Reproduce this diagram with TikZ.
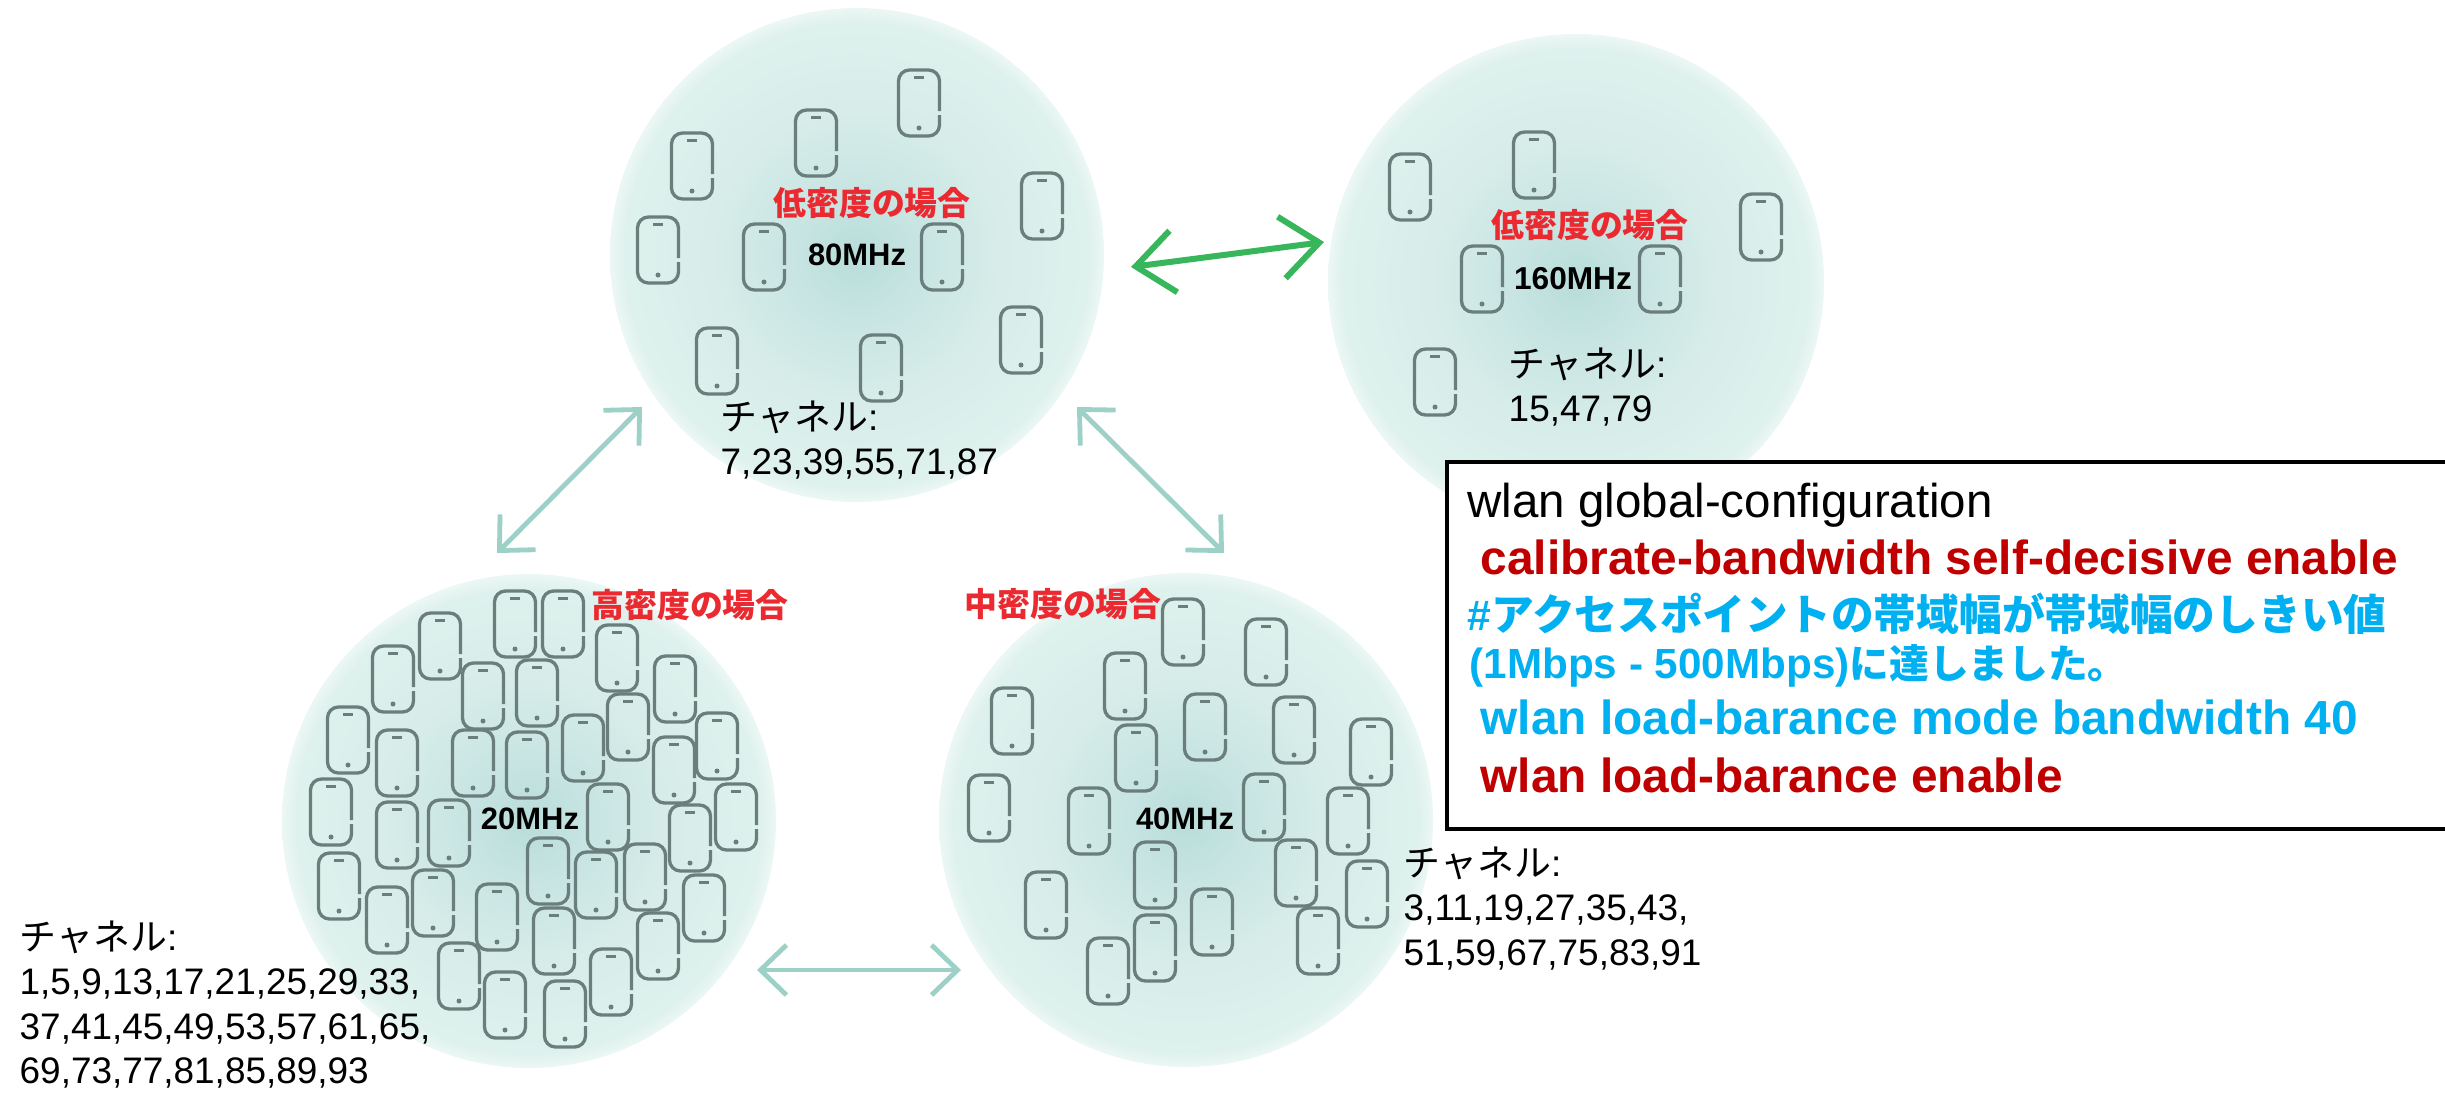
\documentclass[tikz,border=0pt]{standalone}
\usepackage{fontspec}
\usetikzlibrary{arrows.meta}
\setmainfont{Liberation Sans}
\newfontfamily\cjk{Noto Sans CJK JP}
\pgfdeclareradialshading{bubblefill}{\pgfpointorigin}{rgb(0bp)=(.72,.865,.855); rgb(6bp)=(.78,.895,.885); rgb(15bp)=(.845,.93,.915); rgb(23.5bp)=(.87,.945,.93); rgb(25bp)=(.925,.97,.96); rgb(50bp)=(1,1,1)}
\definecolor{phonegray}{HTML}{6A7E7C}
\definecolor{densityred}{HTML}{EA2A30}
\definecolor{cmdred}{HTML}{C00000}
\definecolor{cmdblue}{HTML}{00B0F0}
\definecolor{linkteal}{HTML}{9DD0C6}
\definecolor{linkgreen}{HTML}{38B65C}
\tikzset{
	handset/.pic={
		\draw [phonegray, line width=0.033cm, rounded corners=0.11cm] (20.5,8) -- (20.5,-33) -- (-20.5,-33) -- (-20.5,33) -- (20.5,33) -- (20.5,12);
		\draw [phonegray, line width=0.03cm] (-5,-26) -- (5,-26);
		\fill [phonegray] (0,25) circle (2.5);
	},
	density/.style={inner sep=0, text=densityred, font=\cjk\bfseries\fontsize{9.35}{11}\selectfont},
	band/.style={inner sep=0, font=\bfseries\fontsize{8.8}{11}\selectfont},
	channels/.style={inner sep=0, anchor=north west, align=left, font=\fontsize{10.5}{12.65}\selectfont},
	cmdline/.style={inner sep=0, anchor=base west},
	cmdbold/.style={cmdline, font=\bfseries\fontsize{13.6}{16}\selectfont},
	cmdnote/.style={cmdline, text=cmdblue, font=\bfseries\fontsize{12}{14}\selectfont},
	teal link/.style={linkteal, line width=0.048cm, <->, >={Straight Barb[length=0.26cm,width=0.5cm]}},
	green link/.style={linkgreen, line width=0.06cm, <->, >={Straight Barb[length=0.38cm,width=0.62cm]}}
}
\begin{document}
\begin{tikzpicture}[x=0.01cm, y=-0.01cm]
		\useasboundingbox (0,0) rectangle (2445,1093);
		%bubbles
		\shade [shading=bubblefill] (857,255) circle (247);
		\shade [shading=bubblefill] (1576,282) circle (248);
		\shade [shading=bubblefill] (529,821) circle (247);
		\shade [shading=bubblefill] (1186,820) circle (247);
		%80 MHz
		\pic at (919,103) {handset}; \pic at (816,143) {handset}; \pic at (692,166) {handset}; \pic at (1042,206) {handset}; \pic at (658,250) {handset};
		\pic at (764,257) {handset}; \pic at (942,257) {handset}; \pic at (1021,340) {handset}; \pic at (717,361) {handset}; \pic at (881,368) {handset};
		%160 MHz
		\pic at (1410,187) {handset}; \pic at (1534,165) {handset}; \pic at (1761,227) {handset};
		\pic at (1482,279) {handset}; \pic at (1660,279) {handset}; \pic at (1435,382) {handset};
		%20 MHz
		\pic at (515,624) {handset}; \pic at (563,624) {handset}; \pic at (440,646) {handset}; \pic at (393,679) {handset}; \pic at (617,658) {handset}; \pic at (675,689) {handset};
		\pic at (483,696) {handset}; \pic at (537,693) {handset}; \pic at (348,740) {handset}; \pic at (397,763) {handset}; \pic at (473,763) {handset}; \pic at (527,765) {handset};
		\pic at (583,748) {handset}; \pic at (628,727) {handset}; \pic at (717,746) {handset}; \pic at (674,770) {handset}; \pic at (331,812) {handset}; \pic at (397,835) {handset};
		\pic at (449,833) {handset}; \pic at (608,817) {handset}; \pic at (736,817) {handset}; \pic at (690,838) {handset}; \pic at (339,886) {handset}; \pic at (387,920) {handset};
		\pic at (433,903) {handset}; \pic at (497,917) {handset}; \pic at (548,871) {handset}; \pic at (596,885) {handset}; \pic at (645,877) {handset}; \pic at (704,908) {handset};
		\pic at (554,941) {handset}; \pic at (658,946) {handset}; \pic at (459,976) {handset}; \pic at (505,1005) {handset}; \pic at (565,1014) {handset}; \pic at (611,982) {handset};
		%40 MHz
		\pic at (1183,632) {handset}; \pic at (1266,652) {handset}; \pic at (1125,686) {handset}; \pic at (1012,721) {handset}; \pic at (1205,727) {handset};
		\pic at (1294,730) {handset}; \pic at (1371,752) {handset}; \pic at (1136,758) {handset}; \pic at (989,808) {handset}; \pic at (1089,821) {handset};
		\pic at (1264,807) {handset}; \pic at (1348,821) {handset}; \pic at (1155,875) {handset}; \pic at (1296,873) {handset}; \pic at (1367,894) {handset};
		\pic at (1046,905) {handset}; \pic at (1212,922) {handset}; \pic at (1155,948) {handset}; \pic at (1318,941) {handset}; \pic at (1108,971) {handset};
		%density labels
		\node [density] (low80) at (872,203) {低密度の場合};
		\node [density] (low160) at (1590,225) {低密度の場合};
		\node [density] (high20) at (690,605) {高密度の場合};
		\node [density] (mid40) at (1063,604) {中密度の場合};
		%band labels
		\node [band] (band80) at (857,255) {80MHz};
		\node [band, font=\bfseries\fontsize{9}{11}\selectfont] (band160) at (1573,279) {160MHz};
		\node [band] (band20) at (530,819) {20MHz};
		\node [band] (band40) at (1185,819) {40MHz};
		%channel lists
		\node [channels] (chan80) at (720,400) {{\cjk チャネル}:\\7,23,39,55,71,87};
		\node [channels] (chan160) at (1508,347) {{\cjk チャネル}:\\15,47,79};
		\node [channels] (chan40) at (1403,846) {{\cjk チャネル}:\\3,11,19,27,35,43,\\51,59,67,75,83,91};
		\node [channels] (chan20) at (19,920) {{\cjk チャネル}:\\1,5,9,13,17,21,25,29,33,\\37,41,45,49,53,57,61,65,\\69,73,77,81,85,89,93};
		%arrows
		\coordinate (greenl) at (1131,267); \coordinate (greenr) at (1324,242);
		\coordinate (leftup) at (642,407); \coordinate (leftdown) at (497,553);
		\coordinate (rightup) at (1077,407); \coordinate (rightdown) at (1224,553);
		\coordinate (bottoml) at (757,970); \coordinate (bottomr) at (961,970);
		\draw [green link] (greenl) -- (greenr);
		\draw [teal link] (leftup) -- (leftdown);
		\draw [teal link] (rightup) -- (rightdown);
		\draw [teal link] (bottoml) -- (bottomr);
		%command box, runs off the right edge
		\filldraw [draw=black, fill=white, line width=0.035cm] (2445,462) -- (1447,462) -- (1447,829) -- (2445,829);
		\node [cmdline, font=\fontsize{13.5}{16}\selectfont] (cfg1) at (1467,517) {wlan global-configuration};
		\node [cmdbold, text=cmdred] (cfg2) at (1480,574) {calibrate-bandwidth self-decisive enable};
		\node [cmdnote, font=\bfseries\fontsize{12.15}{14}\selectfont] (cfg3) at (1467,630) {\#{\cjk アクセスポイントの帯域幅が帯域幅のしきい値}};
		\node [cmdnote] (cfg4) at (1469,678) {(1Mbps - 500Mbps){\cjk\fontsize{11.3}{14}\selectfont に達しました。}};
		\node [cmdbold, text=cmdblue] (cfg5) at (1480,734) {wlan load-barance mode bandwidth 40};
		\node [cmdbold, text=cmdred] (cfg6) at (1480,792) {wlan load-barance enable};
		\end{tikzpicture}
\end{document}
